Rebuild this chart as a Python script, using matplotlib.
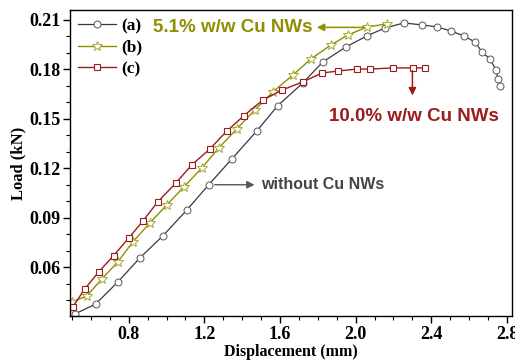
import numpy as np
import matplotlib
matplotlib.use('Agg')
from matplotlib import pyplot as plt
from matplotlib.ticker import MultipleLocator

# curve (a): without Cu NWs
disp_a = [0.514, 0.625, 0.742, 0.858, 0.980, 1.107, 1.223, 1.345, 1.477, 1.588, 1.720,
          1.826, 1.948, 2.059, 2.154, 2.255, 2.350, 2.430, 2.504, 2.572, 2.631, 2.668,
          2.710, 2.742, 2.752, 2.763]
load_a = [0.0315, 0.0376, 0.0509, 0.0655, 0.0789, 0.0946, 0.1100, 0.1256, 0.1426, 0.1580,
          0.1717, 0.1845, 0.1936, 0.2003, 0.2051, 0.2082, 0.2070, 0.2058, 0.2033, 0.2003,
          0.1966, 0.1906, 0.1863, 0.1796, 0.1742, 0.1700]

# curve (b): 5.1% w/w Cu NWs
disp_b = [0.498, 0.578, 0.657, 0.742, 0.821, 0.911, 1.001, 1.091, 1.186, 1.276, 1.371,
          1.467, 1.562, 1.668, 1.763, 1.869, 1.959, 2.059, 2.165]
load_b = [0.0388, 0.0424, 0.0527, 0.0631, 0.0752, 0.0867, 0.0977, 0.1086, 0.1201, 0.1323,
          0.1438, 0.1554, 0.1663, 0.1766, 0.1863, 0.1948, 0.2009, 0.2057, 0.2076]

# curve (c): 10.0% w/w Cu NWs
disp_c = [0.504, 0.567, 0.641, 0.720, 0.800, 0.875, 0.953, 1.049, 1.133, 1.229, 1.319,
          1.410, 1.509, 1.610, 1.721, 1.821, 1.906, 2.006, 2.075, 2.197, 2.303, 2.366]
load_c = [0.0357, 0.0467, 0.0570, 0.0670, 0.0776, 0.0880, 0.0995, 0.1110, 0.1220, 0.1317,
          0.1426, 0.1520, 0.1614, 0.1675, 0.1724, 0.1778, 0.1790, 0.1802, 0.1802, 0.1809,
          0.1809, 0.1809]

col_a = '#3a3a3a'
col_b = '#8f8f00'
col_c = '#9b1c1c'


def main():
    plt.rcParams['font.family'] = ['Liberation Serif', 'DejaVu Serif']
    plt.rcParams['font.weight'] = 'bold'

    fig = plt.figure(figsize=(5.15, 3.6), dpi=100)
    ax = fig.add_axes([0.136, 0.122, 0.858, 0.850])

    ax.plot(disp_a, load_a, color=col_a, lw=0.9, marker='o', ms=5,
            mfc='white', mec='#555555', mew=0.7, label='(a)')
    ax.plot(disp_b, load_b, color=col_b, lw=1.0, marker='*', ms=7,
            mfc='white', mec='#a8a830', mew=0.7, label='(b)')
    ax.plot(disp_c, load_c, color=col_c, lw=1.0, marker='s', ms=4.5,
            mfc='white', mec=col_c, mew=0.8, label='(c)')

    ax.set_xlim(0.49, 2.826)
    ax.set_ylim(0.0303, 0.216)
    ax.xaxis.set_minor_locator(MultipleLocator(0.1))
    ax.yaxis.set_minor_locator(MultipleLocator(0.01))
    ax.set_xticks([0.8, 1.2, 1.6, 2.0, 2.4, 2.8])
    ax.set_yticks([0.06, 0.09, 0.12, 0.15, 0.18, 0.21])
    ax.tick_params(which='major', direction='out', length=5, width=1, labelsize=13, pad=2)
    ax.tick_params(which='minor', direction='out', length=3, width=0.8)
    for s in ax.spines.values():
        s.set_linewidth(1.0)

    ax.set_xlabel('Displacement (mm)', fontsize=11.5, fontweight='bold', labelpad=1)
    ax.set_ylabel('Load (kN)', fontsize=12, fontweight='bold', labelpad=2)

    ax.legend(loc='upper left', frameon=False, fontsize=12.5, handlelength=2.2,
              handletextpad=0.3, labelspacing=0.32, borderaxespad=0.15,
              borderpad=0.3)

    sans = ['Liberation Sans', 'DejaVu Sans']
    ax.annotate('', xy=(1.78, 0.2055), xytext=(2.06, 0.2055),
                arrowprops=dict(arrowstyle='-|>', color=col_b, lw=1.1, mutation_scale=11))
    ax.text(1.77, 0.2055, '5.1% w/w Cu NWs', color=col_b, fontsize=13.5,
            fontweight='bold', family=sans, ha='right', va='center')

    ax.annotate('', xy=(2.30, 0.1625), xytext=(2.30, 0.1809),
                arrowprops=dict(arrowstyle='-|>', color=col_c, lw=1.1, mutation_scale=11))
    ax.text(2.31, 0.1512, '10.0% w/w Cu NWs', color=col_c, fontsize=13.5,
            fontweight='bold', family=sans, ha='center', va='center')

    ax.annotate('', xy=(1.48, 0.1100), xytext=(1.24, 0.1100),
                arrowprops=dict(arrowstyle='-|>', color='#555555', lw=1.0, mutation_scale=11))
    ax.text(1.50, 0.1100, 'without Cu NWs', color='#444444', fontsize=11.5,
            fontweight='bold', family=sans, ha='left', va='center')

    fig.savefig('out.png', dpi=100)


if __name__ == '__main__':
    main()
